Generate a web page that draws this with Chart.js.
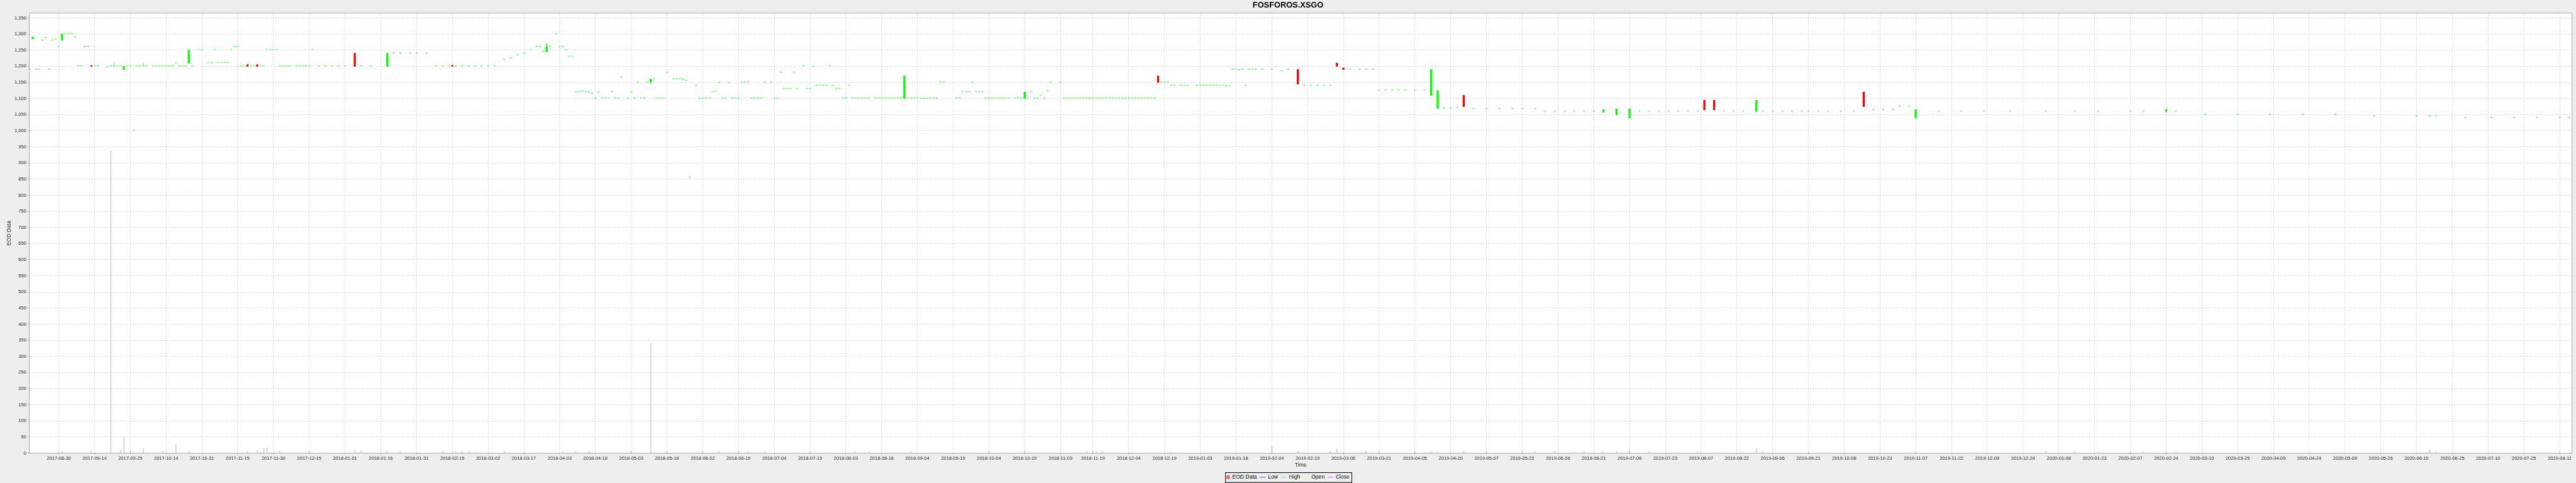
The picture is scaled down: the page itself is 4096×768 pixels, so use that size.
<!DOCTYPE html>
<html>
<head>
<meta charset="utf-8">
<title>FOSFOROS.XSGO</title>
<script src="https://cdn.jsdelivr.net/npm/chart.js@4.4.0/dist/chart.umd.min.js"></script>
<style>
  html, body { margin: 0; padding: 0; background: #eeeeee; }
  canvas { display: block; }
</style>
</head>
<body>
<canvas id="grafico" width="4096" height="768"></canvas>
<script>
// Sessions are numbered on a Monday-Friday timeline, 0 = 2017-08-30
const days = [
  -9,-8,-7,-6,-5,-4,-3,-2,-1,0, 1,2,3,4,5,6,7,8,9,10, 11,12,15,16,17,18,19,20,21,22,
  23,24,25,26,27,29,30,31,32,33, 34,35,36,37,38,39,40,41,43,44, 46,47,48,49,50,51,52,53,54,55,
  56,57,58,59,60,61,62,63,64,65, 66,67,68,69,70,71,73,74,75,76, 77,78,
  80,82,84,86,88,91,93,96,101,103, 105,108,110,113,116,118,120,121,122,124, 126,128,130,132,134,137,139,141,143,145,
  147,148,149,150,151,153,154,155,156,157, 158,159,160,161,162,163,164,165,166,167,
  168,169,170,171,172,173,175,176,177,178, 179,180,181,182,183,184,185,186,187,189,
  190,191,192,193,194,196,197,198,199,200, 201,202,203,204,205,206,207,208,209,210,
  211,212,213,214,215,216,217,219,220,221, 222,223,224,225,226,227,229,230,231,232,
  233,234,235,236,237,238,239,240,241,242, 243,244,245,246,247,248,249,251,252,253,
  254,255,256,257,258,259,260,261,262,263, 264,265,266,267,268,269,270,271,272,276,
  277,278,279,280,281,282,283,284,285,286, 287,288,289,290,291,292,294,295,296,297,
  298,299,300,301,302,303,304,305,308,309, 310,311,312,313,314,315,316,317,318,319,
  320,321,322,323,324,325,326,327,328,329, 330,331,332,333,334,335,336,337,338,339,
  340,341,342,343,345,346,347,350,351,352, 353,354,355,356,357,358,359,360,361,362,
  363,364,365,366,367,
  368,370,373,376,378,381,383,385,387,389, 391,393,395,397,400,402,404,406,408,410,
  412,414,417,420,422,424,426,428,430,432, 435,439,443,447,450,454,457,460,463,466,
  469,472,475,479,483,486,489,492,495,498, 501,504,506,509,512,515,518,522,524,527,
  530,533,536,538,541,544,548,552,555,558, 561,564,566,569,571,578,585,592,600,611,
  620,627,637,641,648,651,660,670,680,690, 700,712,725,729,731,740,748,755,762,769,
  772
];

const open = [
  1190,1285,1190,1190,1280,1288,1190,1280,1284,1260, 1281,1300,1300,1300,1290,1200,1200,1260,1260,1202,
  1200,1200,1198,1200,1200,1200,1200,1190,1200,1200, 1000,1200,1200,1200,1200,1200,1200,1200,1200,1200,
  1200,1200,1210,1200,1200,1200,1210,1200,1250,1250, 1210,1210,1250,1211,1211,1211,1211,1250,1260,1260,
  1200,1200,1205,1200,1200,1205,1200,1200,1250,1250, 1250,1250,1200,1200,1200,1200,1200,1200,1200,1200,
  1200,1250,
  1200,1200,1200,1200,1200,1240,1200,1200,1200,1240, 1240,1240,1240,1240,1200,1200,1200,1203,1200,1200,
  1200,1200,1200,1200,1200,1220,1225,1235,1240,1250,
  1260,1260,1245,1245,1260,1300,1260,1260,1250,1230, 1230,1120,1121,1122,1120,1119,1115,1100,1119,1100,
  1100,1100,1120,1100,1100,1166,1100,1120,1100,1150, 1100,1100,1150,1150,1160,1100,1100,1100,1180,1160,
  1160,1160,1158,1155,855,1140,1100,1100,1100,1100, 1120,1122,1149,1100,1100,1148,1100,1100,1100,1150,
  1150,1150,1100,1100,1100,1100,1150,1150,1100,1100, 1180,1130,1130,1130,1180,1130,1200,1130,1130,1200,
  1140,1140,1140,1140,1200,1140,1130,1130,1100,1100, 1140,1100,1100,1100,1100,1100,1100,1100,1100,1100,
  1100,1100,1100,1100,1100,1100,1100,1100,1100,1100, 1100,1100,1100,1100,1100,1100,1100,1150,1150,1100,
  1100,1120,1120,1120,1150,1120,1120,1120,1100,1100, 1100,1100,1100,1100,1100,1100,1100,1100,1100,1100,
  1100,1120,1100,1100,1110,1100,1123,1150,1150,1100, 1100,1100,1100,1100,1100,1100,1100,1100,1100,1100,
  1100,1100,1100,1100,1100,1100,1100,1100,1100,1100, 1100,1100,1100,1100,1100,1100,1100,1100,1170,1150,
  1150,1150,1140,1140,1140,1140,1140,1140,1140,1140, 1140,1140,1140,1140,1140,1140,1138,1138,1190,1190,
  1188,1190,1140,1190,1190,
  1190,1190,1190,1185,1190,1190,1140,1140,1140,1140, 1140,1210,1195,1190,1190,1190,1190,1125,1125,1125,
  1125,1125,1125,1125,1110,1070,1070,1070,1070,1110, 1068,1068,1068,1068,1068,1068,1060,1060,1060,1060,
  1060,1060,1058,1050,1040,1060,1060,1060,1060,1060, 1060,1060,1095,1095,1060,1060,1060,1060,1060,1060,
  1060,1060,1060,1060,1060,1060,1060,1060,1120,1065, 1065,1065,1075,1075,1040,1060,1060,1060,1060,1060,
  1060,1060,1060,1060,1060,1060,1050,1050,1050,1050, 1050,1045,1045,1045,1045,1040,1040,1040,1040,1040,
  1040
];

const high = [
  1190,1292,1190,1190,1280,1288,1190,1280,1284,1260, 1300,1300,1300,1300,1290,1200,1200,1260,1260,1202,
  1200,1200,1198,1200,1210,1200,1200,1200,1200,1200, 1000,1200,1200,1210,1200,1200,1200,1200,1200,1200,
  1200,1200,1210,1200,1200,1200,1250,1200,1250,1250, 1210,1210,1250,1211,1211,1211,1211,1250,1260,1260,
  1200,1200,1205,1200,1200,1205,1200,1200,1250,1250, 1250,1250,1200,1200,1200,1200,1200,1200,1200,1200,
  1200,1250,
  1200,1200,1200,1200,1200,1240,1200,1200,1240,1240, 1240,1240,1240,1240,1200,1200,1200,1203,1200,1200,
  1200,1200,1200,1200,1200,1220,1225,1235,1240,1250,
  1260,1260,1245,1270,1260,1300,1260,1260,1250,1230, 1230,1120,1121,1122,1120,1119,1115,1100,1119,1100,
  1100,1100,1120,1100,1100,1166,1100,1120,1100,1150, 1100,1100,1150,1160,1160,1100,1100,1100,1180,1160,
  1160,1160,1158,1155,855,1140,1100,1100,1100,1100, 1120,1122,1149,1100,1100,1148,1100,1100,1100,1150,
  1150,1150,1100,1100,1100,1100,1150,1150,1100,1100, 1180,1130,1130,1130,1180,1130,1200,1130,1130,1200,
  1140,1140,1140,1140,1200,1140,1130,1130,1100,1100, 1140,1100,1100,1100,1100,1100,1100,1100,1100,1100,
  1100,1100,1100,1100,1100,1100,1170,1100,1100,1100, 1100,1100,1100,1100,1100,1100,1100,1150,1150,1100,
  1100,1120,1120,1120,1150,1120,1120,1120,1100,1100, 1100,1100,1100,1100,1100,1100,1100,1100,1100,1120,
  1100,1120,1100,1100,1110,1100,1123,1150,1150,1100, 1100,1100,1100,1100,1100,1100,1100,1100,1100,1100,
  1100,1100,1100,1100,1100,1100,1100,1100,1100,1100, 1100,1100,1100,1100,1100,1100,1100,1100,1170,1150,
  1150,1150,1140,1140,1140,1140,1140,1140,1140,1140, 1140,1140,1140,1140,1140,1140,1138,1138,1190,1190,
  1188,1190,1140,1190,1190,
  1190,1190,1190,1185,1190,1190,1140,1140,1140,1140, 1140,1210,1195,1190,1190,1190,1190,1125,1125,1125,
  1125,1125,1125,1125,1190,1125,1070,1070,1070,1110, 1068,1068,1068,1068,1068,1068,1060,1060,1060,1060,
  1060,1060,1065,1068,1068,1060,1060,1060,1060,1060, 1060,1060,1095,1095,1060,1060,1060,1095,1060,1060,
  1060,1060,1060,1060,1060,1060,1060,1060,1120,1065, 1065,1065,1075,1075,1065,1060,1060,1060,1060,1060,
  1060,1060,1060,1060,1066,1060,1050,1050,1050,1050, 1050,1045,1045,1045,1045,1040,1040,1040,1040,1040,
  1040
];

const low = [
  1190,1285,1190,1190,1280,1288,1190,1280,1284,1260, 1281,1300,1300,1300,1290,1200,1200,1260,1260,1200,
  1200,1200,1198,1200,1200,1200,1200,1190,1200,1200, 1000,1200,1200,1200,1200,1200,1200,1200,1200,1200,
  1200,1200,1210,1200,1200,1200,1210,1200,1250,1250, 1210,1210,1250,1211,1211,1211,1211,1250,1260,1260,
  1200,1200,1200,1200,1200,1200,1200,1200,1250,1250, 1250,1250,1200,1200,1200,1200,1200,1200,1200,1200,
  1200,1250,
  1200,1200,1200,1200,1200,1200,1200,1200,1200,1240, 1240,1240,1240,1240,1200,1200,1200,1200,1200,1200,
  1200,1200,1200,1200,1200,1220,1225,1235,1240,1250,
  1260,1260,1245,1245,1260,1300,1260,1260,1250,1230, 1230,1120,1121,1122,1120,1119,1115,1100,1119,1100,
  1100,1100,1120,1100,1100,1166,1100,1120,1100,1150, 1100,1100,1150,1150,1160,1100,1100,1100,1180,1160,
  1160,1160,1158,1155,855,1140,1100,1100,1100,1100, 1120,1122,1149,1100,1100,1148,1100,1100,1100,1150,
  1150,1150,1100,1100,1100,1100,1150,1150,1100,1100, 1180,1130,1130,1130,1180,1130,1200,1130,1130,1200,
  1140,1140,1140,1140,1200,1140,1130,1130,1100,1100, 1140,1100,1100,1100,1100,1100,1100,1100,1100,1100,
  1100,1100,1100,1100,1100,1100,1100,1100,1100,1100, 1100,1100,1100,1100,1100,1100,1100,1150,1150,1100,
  1100,1120,1120,1120,1150,1120,1120,1120,1100,1100, 1100,1100,1100,1100,1100,1100,1100,1100,1100,1100,
  1100,1120,1100,1100,1110,1100,1123,1150,1150,1100, 1100,1100,1100,1100,1100,1100,1100,1100,1100,1100,
  1100,1100,1100,1100,1100,1100,1100,1100,1100,1100, 1100,1100,1100,1100,1100,1100,1100,1100,1150,1150,
  1150,1150,1140,1140,1140,1140,1140,1140,1140,1140, 1140,1140,1140,1140,1140,1140,1138,1138,1190,1190,
  1188,1190,1140,1190,1190,
  1190,1190,1190,1185,1190,1145,1140,1140,1140,1140, 1140,1200,1190,1190,1190,1190,1190,1125,1125,1125,
  1125,1125,1125,1125,1110,1070,1070,1070,1070,1075, 1068,1068,1068,1068,1068,1068,1060,1060,1060,1060,
  1060,1060,1058,1050,1040,1060,1060,1060,1060,1060, 1060,1060,1065,1065,1060,1060,1060,1060,1060,1060,
  1060,1060,1060,1060,1060,1060,1060,1060,1075,1065, 1065,1065,1075,1075,1040,1060,1060,1060,1060,1060,
  1060,1060,1060,1060,1060,1060,1050,1050,1050,1050, 1050,1045,1045,1045,1045,1040,1040,1040,1040,1040,
  1040
];

const close = [
  1190,1290,1190,1190,1280,1288,1190,1280,1284,1260, 1300,1300,1300,1300,1290,1200,1200,1260,1260,1200,
  1200,1200,1198,1200,1200,1200,1200,1200,1200,1200, 1000,1200,1200,1200,1200,1200,1200,1200,1200,1200,
  1200,1200,1210,1200,1200,1200,1250,1200,1250,1250, 1210,1210,1250,1211,1211,1211,1211,1250,1260,1260,
  1200,1200,1200,1200,1200,1200,1200,1200,1250,1250, 1250,1250,1200,1200,1200,1200,1200,1200,1200,1200,
  1200,1250,
  1200,1200,1200,1200,1200,1200,1200,1200,1240,1240, 1240,1240,1240,1240,1200,1200,1200,1200,1200,1200,
  1200,1200,1200,1200,1200,1220,1225,1235,1240,1250,
  1260,1260,1245,1260,1260,1300,1260,1260,1250,1230, 1230,1120,1121,1122,1120,1119,1115,1100,1119,1100,
  1100,1100,1120,1100,1100,1166,1100,1120,1100,1150, 1100,1100,1150,1160,1160,1100,1100,1100,1180,1160,
  1160,1160,1158,1155,855,1140,1100,1100,1100,1100, 1120,1122,1149,1100,1100,1148,1100,1100,1100,1150,
  1150,1150,1100,1100,1100,1100,1150,1150,1100,1100, 1180,1130,1130,1130,1180,1130,1200,1130,1130,1200,
  1140,1140,1140,1140,1200,1140,1130,1130,1100,1100, 1140,1100,1100,1100,1100,1100,1100,1100,1100,1100,
  1100,1100,1100,1100,1100,1100,1170,1100,1100,1100, 1100,1100,1100,1100,1100,1100,1100,1150,1150,1100,
  1100,1120,1120,1120,1150,1120,1120,1120,1100,1100, 1100,1100,1100,1100,1100,1100,1100,1100,1100,1120,
  1100,1120,1100,1100,1110,1100,1123,1150,1150,1100, 1100,1100,1100,1100,1100,1100,1100,1100,1100,1100,
  1100,1100,1100,1100,1100,1100,1100,1100,1100,1100, 1100,1100,1100,1100,1100,1100,1100,1100,1150,1150,
  1150,1150,1140,1140,1140,1140,1140,1140,1140,1140, 1140,1140,1140,1140,1140,1140,1138,1138,1190,1190,
  1188,1190,1140,1190,1190,
  1190,1190,1190,1185,1190,1145,1140,1140,1140,1140, 1140,1200,1190,1190,1190,1190,1190,1125,1125,1125,
  1125,1125,1125,1125,1190,1125,1070,1070,1070,1075, 1068,1068,1068,1068,1068,1068,1060,1060,1060,1060,
  1060,1060,1065,1068,1068,1060,1060,1060,1060,1060, 1060,1060,1065,1065,1060,1060,1060,1095,1060,1060,
  1060,1060,1060,1060,1060,1060,1060,1060,1075,1065, 1065,1065,1075,1075,1065,1060,1060,1060,1060,1060,
  1060,1060,1060,1060,1066,1060,1050,1050,1050,1050, 1050,1045,1045,1045,1045,1040,1040,1040,1040,1040,
  1040
];

const volume = [
  1,1,1,1,1,1,1,1,1,2, 5,1,1,1,1,1,1,1,1,5, 1,1,1,937,1,1,11,50,1,7,
  1,1,1,15,1,1,1,1,4,1, 1,1,27,1,1,1,4,1,1,1, 1,1,1,1,1,1,1,1,1,1,
  1,1,5,1,1,11,4,15,17,1, 1,1,6,1,1,1,1,1,1,1, 5,1,
  1,1,1,1,1,8,8,1,6,1, 5,1,1,1,1,5,1,1,6,6, 5,1,1,1,1,5,1,1,1,1,
  1,1,1,1,1,1,1,5,1,1, 1,5,1,1,1,5,1,1,1,1,
  1,1,1,1,1,1,1,6,1,1, 1,1,1,340,1,1,1,1,5,1,
  1,1,1,1,1,1,1,5,1,1, 1,1,5,1,1,1,1,1,5,1,
  1,4,1,1,1,1,4,1,1,1, 1,1,1,1,1,1,1,1,4,1,
  1,1,1,1,1,1,1,1,1,1, 1,1,4,1,1,1,4,1,1,1,
  1,1,1,1,1,1,1,1,4,1, 1,1,1,1,1,1,1,1,1,1,
  1,1,1,1,1,1,1,1,1,4, 1,1,1,1,1,1,1,1,1,6,
  1,1,1,1,1,1,1,1,1,1, 1,1,1,1,1,1,5,1,5,5,
  1,5,1,1,1,1,1,1,1,1, 1,1,1,1,1,1,1,1,1,1,
  1,1,3,1,1,1,1,1,1,1, 1,1,1,1,1,1,1,1,1,1,
  1,1,1,1,1,
  1,1,21,1,1,5,1,1,1,1, 5,13,3,1,1,7,1,4,1,1,
  1,1,5,3,5,3,1,1,1,5, 1,4,1,1,4,4,1,4,1,4,
  4,1,4,4,10,1,4,1,1,1, 1,4,1,1,1,1,1,15,5,1,
  1,1,1,4,1,1,1,1,1,1, 1,1,1,1,4,1,1,1,1,4,
  4,4,3,3,4,3,1,1,1,1, 1,1,1,10,4,1,1,1,1,4,
  1
];

const tickLabels = [
  '2017-08-30','2017-09-14','2017-09-29','2017-10-14','2017-10-31','2017-11-15','2017-11-30','2017-12-15',
  '2018-01-01','2018-01-16','2018-01-31','2018-02-15','2018-03-02','2018-03-17','2018-04-03','2018-04-18',
  '2018-05-03','2018-05-18','2018-06-02','2018-06-19','2018-07-04','2018-07-19','2018-08-03','2018-08-18',
  '2018-09-04','2018-09-19','2018-10-04','2018-10-19','2018-11-03','2018-11-19','2018-12-04','2018-12-19',
  '2019-01-03','2019-01-18','2019-02-04','2019-02-19','2019-03-06','2019-03-21','2019-04-05','2019-04-20',
  '2019-05-07','2019-05-22','2019-06-06','2019-06-21','2019-07-06','2019-07-23','2019-08-07','2019-08-22',
  '2019-09-06','2019-09-21','2019-10-08','2019-10-23','2019-11-07','2019-11-22','2019-12-09','2019-12-24',
  '2020-01-08','2020-01-23','2020-02-07','2020-02-24','2020-03-10','2020-03-25','2020-04-09','2020-04-24',
  '2020-05-09','2020-05-26','2020-06-10','2020-06-25','2020-07-10','2020-07-25','2020-08-11'
];

const legendLabels = ['EOD Data', 'Low', 'High', 'Open', 'Close'];
const legendColors = ['#ff5555', '#5555ff', '#55ff55', '#ffff55', '#ff55ff'];

const FONTE = '"Liberation Sans", Arial, sans-serif';
const ESCALA = 0.711;

// weekday position of a date, weekends fall onto the next Monday
const segunda = Date.UTC(2017, 7, 28);
function posicaoDia(texto) {
  const [a, m, d] = texto.split('-').map(Number);
  const n = Math.round((Date.UTC(a, m - 1, d) - segunda) / 86400000);
  let semana = Math.floor(n / 7);
  let resto = n - semana * 7;
  if (resto > 4) { semana += 1; resto = 0; }
  return semana * 5 + resto - 2;
}

const tickPos = tickLabels.map(posicaoDia);
const rotuloPorPos = new Map(tickPos.map((p, i) => [p, tickLabels[i]]));

function corVela(i) {
  if (close[i] > open[i]) return '#00ff00';
  if (close[i] < open[i]) return '#ff0000';
  return '#7dff7d';
}

const fundoPlugin = {
  id: 'fundo',
  beforeDraw(chart) {
    const { ctx, chartArea: a, width, height } = chart;
    ctx.save();
    ctx.fillStyle = '#eeeeee';
    ctx.fillRect(0, 0, width, height);
    ctx.fillStyle = '#ffffff';
    ctx.fillRect(a.left, a.top, a.right - a.left, a.bottom - a.top);
    ctx.restore();
  },
  afterDatasetsDraw(chart) {
    const { ctx, chartArea: a } = chart;
    ctx.save();
    ctx.strokeStyle = '#a8a8a8';
    ctx.lineWidth = 1;
    ctx.strokeRect(a.left, a.top, a.right - a.left, a.bottom - a.top);
    ctx.restore();
  },
  afterDraw(chart) {
    const ctx = chart.ctx;
    const cx = chart.width / 2;
    ctx.save();
    // titulo
    ctx.fillStyle = '#000';
    ctx.font = 'bold 12.8px ' + FONTE;
    ctx.textAlign = 'center';
    ctx.textBaseline = 'middle';
    ctx.fillText('FOSFOROS.XSGO', cx, 8.8);

    // legenda
    ctx.font = '8.6px ' + FONTE;
    const quadrado = 5.4, linha = 9.3, gapSimbolo = 3.9, gapItem = 4.5, pad = 2.5;
    const larguras = legendLabels.map(t => ctx.measureText(t).width);
    let total = pad * 2;
    legendLabels.forEach((t, i) => {
      total += (i === 0 ? quadrado : linha) + gapSimbolo + larguras[i];
      if (i > 0) total += gapItem;
    });
    const topo = 751, base = 766.6, meio = (topo + base) / 2;
    let x = cx - total / 2;
    ctx.strokeStyle = '#000';
    ctx.lineWidth = 1;
    ctx.strokeRect(Math.round(x) + 0.5, topo + 0.5, Math.round(total), base - topo);
    x += pad;
    ctx.textAlign = 'left';
    legendLabels.forEach((t, i) => {
      if (i > 0) x += gapItem;
      if (i === 0) {
        ctx.fillStyle = legendColors[i];
        ctx.fillRect(x, meio - quadrado / 2, quadrado, quadrado);
        x += quadrado;
      } else {
        ctx.strokeStyle = legendColors[i];
        ctx.beginPath();
        ctx.moveTo(x, meio);
        ctx.lineTo(x + linha, meio);
        ctx.stroke();
        x += linha;
      }
      x += gapSimbolo;
      ctx.fillStyle = '#000';
      ctx.fillText(t, x, meio + 0.3);
      x += larguras[i];
    });
    ctx.restore();
  }
};

const candles = days.map((d, i) => ({ x: d, y: [open[i], close[i]] }));
const wicks = days.map((d, i) => ({ x: d, y: [low[i], high[i]] }));
const volumes = days.map((d, i) => ({ x: d, y: volume[i] }));

const gradeX = {
  color: '#d0d0d0',
  lineWidth: 0.8,
  drawTicks: true,
  tickLength: 2,
  tickColor: '#9a9a9a',
  tickWidth: 0.8,
  offset: false
};

new Chart(document.getElementById('grafico'), {
  type: 'bar',
  data: {
    datasets: [
      {
        label: 'EOD Data',
        data: candles,
        grouped: false,
        barThickness: 2.7,
        minBarLength: 1.3,
        backgroundColor: c => corVela(c.dataIndex),
        borderWidth: 0,
        clip: 0,
        order: 1
      },
      {
        label: 'wick',
        data: wicks,
        grouped: false,
        barThickness: 0.8,
        backgroundColor: c => high[c.dataIndex] > low[c.dataIndex] ? corVela(c.dataIndex) : 'rgba(0,0,0,0)',
        borderWidth: 0,
        clip: 0,
        order: 2
      },
      {
        label: 'Volume',
        data: volumes,
        grouped: false,
        barThickness: 1.4,
        backgroundColor: 'rgba(128,128,128,0.3)',
        borderWidth: 0,
        clip: 0,
        order: 3
      }
    ]
  },
  options: {
    responsive: false,
    animation: false,
    devicePixelRatio: 1,
    layout: { padding: { top: 20.85, right: 6.3, bottom: 22.9, left: 0 } },
    plugins: {
      legend: { display: false },
      title: { display: false },
      tooltip: { enabled: false }
    },
    scales: {
      x: {
        type: 'linear',
        min: -9.12,
        max: 772.8,
        offset: false,
        grid: gradeX,
        border: { display: false, dash: [2, 2] },
        afterBuildTicks: s => { s.ticks = tickPos.map(v => ({ value: v })); },
        afterFit: s => { s.height = 24.6; },
        ticks: {
          autoSkip: false,
          maxRotation: 0,
          padding: 1.7,
          color: '#222',
          font: { family: FONTE, size: 7.5 },
          callback: v => rotuloPorPos.get(v) || ''
        },
        title: {
          display: true,
          text: 'Time',
          color: '#222',
          padding: { top: 0, bottom: 0 },
          font: { family: FONTE, size: 8.6 }
        }
      },
      y: {
        min: 0,
        max: 1365,
        grid: gradeX,
        border: { display: false, dash: [2, 2] },
        afterFit: s => { s.width = 46.4; },
        ticks: {
          stepSize: 50,
          includeBounds: false,
          padding: 2.6,
          color: '#222',
          font: { family: FONTE, size: 7.5 },
          callback: v => v.toLocaleString('en-US')
        },
        title: {
          display: true,
          text: 'EOD Data',
          color: '#222',
          padding: { top: 9, bottom: 0 },
          font: { family: FONTE, size: 8.6 }
        }
      }
    }
  },
  plugins: [fundoPlugin]
});
</script>
</body>
</html>
